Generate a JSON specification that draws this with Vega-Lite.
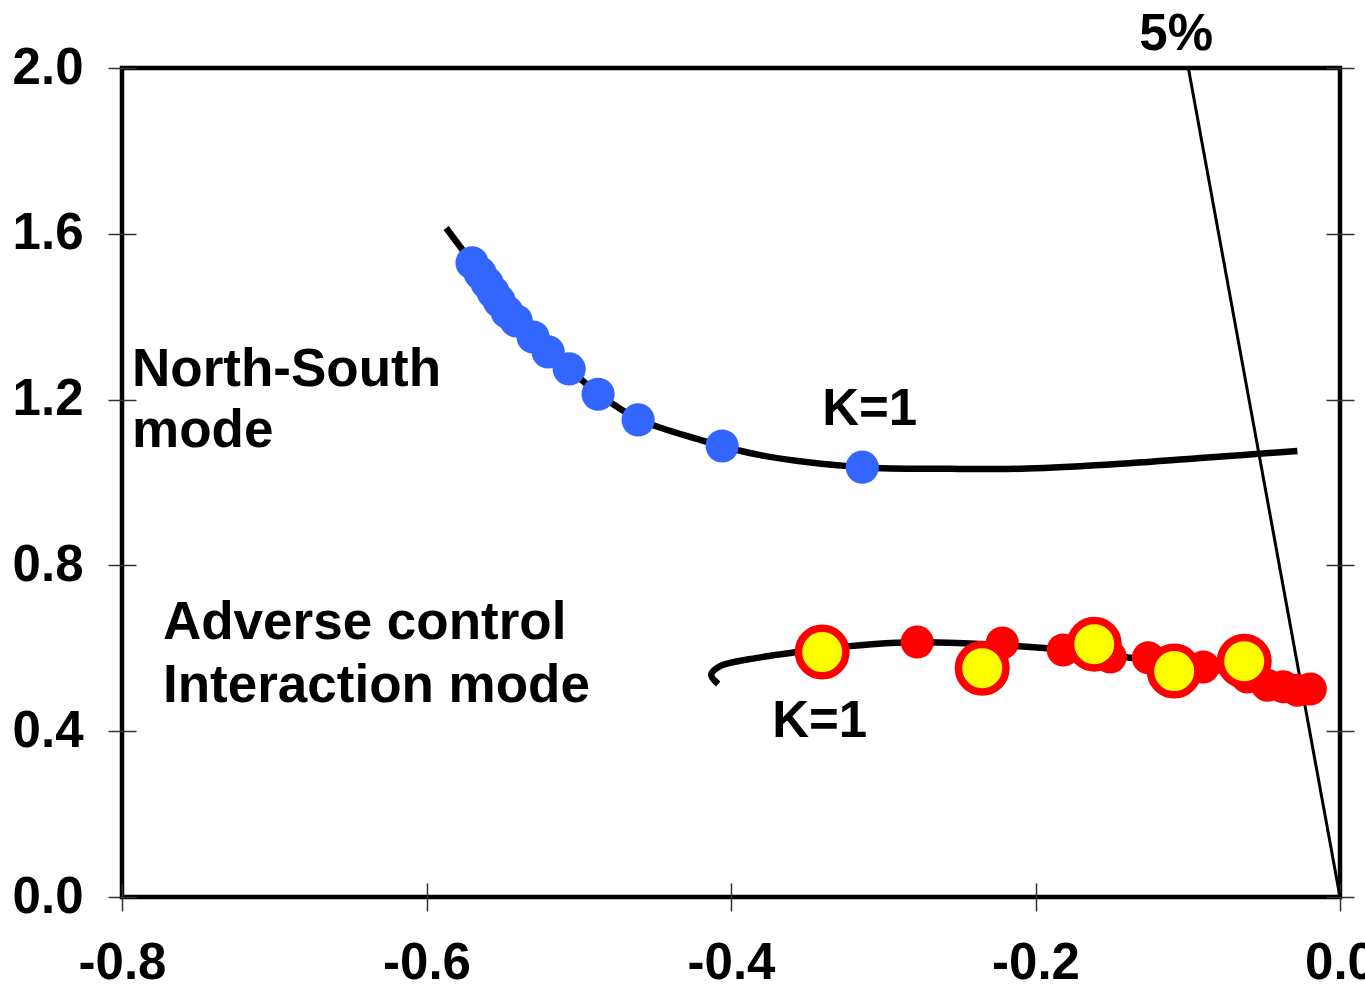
{
  "$schema": "https://vega.github.io/schema/vega-lite/v6.json",
  "width": 1218,
  "height": 829,
  "autosize": {"type": "none"},
  "padding": {"left": 122, "top": 68, "right": 25, "bottom": 90},
  "background": "white",
  "config": {
    "view": {"stroke": "black", "strokeWidth": 4.5},
    "font": "Liberation Sans"
  },
  "datasets": {
    "fiveline": [
      {"x": -0.0996, "y": 2.0},
      {"x": 0.0, "y": 0.0}
    ],
    "curves": [
      {"s": "upper", "ord": 1, "x": -0.5871, "y": 1.614},
      {"s": "upper", "ord": 2, "x": -0.5701, "y": 1.530},
      {"s": "upper", "ord": 3, "x": -0.5517, "y": 1.435},
      {"s": "upper", "ord": 4, "x": -0.5300, "y": 1.351},
      {"s": "upper", "ord": 5, "x": -0.5063, "y": 1.274},
      {"s": "upper", "ord": 6, "x": -0.4860, "y": 1.211},
      {"s": "upper", "ord": 7, "x": -0.4597, "y": 1.151},
      {"s": "upper", "ord": 8, "x": -0.4203, "y": 1.103},
      {"s": "upper", "ord": 9, "x": -0.3808, "y": 1.066},
      {"s": "upper", "ord": 10, "x": -0.3138, "y": 1.037},
      {"s": "upper", "ord": 11, "x": -0.2560, "y": 1.033},
      {"s": "upper", "ord": 12, "x": -0.2100, "y": 1.033},
      {"s": "upper", "ord": 13, "x": -0.1575, "y": 1.042},
      {"s": "upper", "ord": 14, "x": -0.0917, "y": 1.059},
      {"s": "upper", "ord": 15, "x": -0.0280, "y": 1.076},
      {"s": "lower", "ord": 1, "x": -0.4084, "y": 0.514},
      {"s": "lower", "ord": 2, "x": -0.4130, "y": 0.536},
      {"s": "lower", "ord": 3, "x": -0.4071, "y": 0.557},
      {"s": "lower", "ord": 4, "x": -0.3828, "y": 0.577},
      {"s": "lower", "ord": 5, "x": -0.3565, "y": 0.591},
      {"s": "lower", "ord": 6, "x": -0.3283, "y": 0.603},
      {"s": "lower", "ord": 7, "x": -0.2954, "y": 0.613},
      {"s": "lower", "ord": 8, "x": -0.2514, "y": 0.613},
      {"s": "lower", "ord": 9, "x": -0.2034, "y": 0.603},
      {"s": "lower", "ord": 10, "x": -0.1640, "y": 0.590},
      {"s": "lower", "ord": 11, "x": -0.1377, "y": 0.577},
      {"s": "lower", "ord": 12, "x": -0.1049, "y": 0.562},
      {"s": "lower", "ord": 13, "x": -0.0655, "y": 0.538},
      {"s": "lower", "ord": 14, "x": -0.0228, "y": 0.504}
    ],
    "blue": [
      {"x": -0.5701, "y": 1.530},
      {"x": -0.5648, "y": 1.505},
      {"x": -0.5602, "y": 1.481},
      {"x": -0.5562, "y": 1.459},
      {"x": -0.5523, "y": 1.438},
      {"x": -0.5470, "y": 1.411},
      {"x": -0.5411, "y": 1.390},
      {"x": -0.5300, "y": 1.351},
      {"x": -0.5201, "y": 1.315},
      {"x": -0.5063, "y": 1.274},
      {"x": -0.4873, "y": 1.213},
      {"x": -0.4610, "y": 1.151},
      {"x": -0.4058, "y": 1.088},
      {"x": -0.3138, "y": 1.037}
    ],
    "red": [
      {"x": -0.2777, "y": 0.615},
      {"x": -0.2218, "y": 0.613},
      {"x": -0.1818, "y": 0.596},
      {"x": -0.1509, "y": 0.579},
      {"x": -0.1259, "y": 0.577},
      {"x": -0.0898, "y": 0.555},
      {"x": -0.0609, "y": 0.531},
      {"x": -0.0477, "y": 0.511},
      {"x": -0.0372, "y": 0.507},
      {"x": -0.0280, "y": 0.499},
      {"x": -0.0195, "y": 0.502}
    ],
    "yellow": [
      {"x": -0.3401, "y": 0.591},
      {"x": -0.2350, "y": 0.552},
      {"x": -0.1614, "y": 0.610},
      {"x": -0.1089, "y": 0.545},
      {"x": -0.0629, "y": 0.569}
    ],
    "modelabels": [
      {"x": -0.7934, "y": 1.233, "t": "North-South"},
      {"x": -0.7934, "y": 1.085, "t": "mode"},
      {"x": -0.7731, "y": 0.622, "t": "Adverse control"},
      {"x": -0.7731, "y": 0.470, "t": "Interaction mode"}
    ],
    "labels": [
      {"x": -0.3401, "y": 1.139, "t": "K=1"},
      {"x": -0.3729, "y": 0.386, "t": "K=1"},
      {"x": -0.1318, "y": 2.043, "t": "5%"}
    ]
  },
  "resolve": {"axis": {"x": "independent", "y": "independent"}},
  "layer": [
    {
      "data": {"name": "fiveline"},
      "mark": {"type": "line", "color": "black", "strokeWidth": 3, "clip": false},
      "encoding": {
        "x": {
          "field": "x", "type": "quantitative",
          "scale": {"domain": [-0.8, 0], "nice": false, "zero": false},
          "axis": {
            "orient": "bottom", "title": null, "grid": false, "domain": false,
            "values": [-0.8, -0.6, -0.4, -0.2, 0.0],
            "format": ".1f",
            "labelExpr": "replace(datum.label, '\u2212', '-')",
            "labelFont": "Liberation Sans", "labelFontWeight": "bold", "labelFontSize": 51,
            "labelColor": "black", "labelPadding": 27, "labelFlush": false, "labelOverlap": false,
            "tickColor": "#333", "tickWidth": 1.5, "tickSize": 28, "offset": -14
          }
        },
        "y": {
          "field": "y", "type": "quantitative",
          "scale": {"domain": [0, 2], "nice": false, "zero": false},
          "axis": {
            "orient": "left", "title": null, "grid": false, "domain": false,
            "values": [0, 0.4, 0.8, 1.2, 1.6, 2.0],
            "format": ".1f",
            "labelFont": "Liberation Sans", "labelFontWeight": "bold", "labelFontSize": 51,
            "labelColor": "black", "labelPadding": 25, "labelFlush": false, "labelOverlap": false,
            "tickColor": "#333", "tickWidth": 1.5, "tickSize": 28, "offset": -14
          }
        }
      }
    },
    {
      "data": {"name": "curves"},
      "mark": {"type": "line", "color": "black", "strokeWidth": 6.5, "interpolate": "catmull-rom"},
      "encoding": {
        "x": {"field": "x", "type": "quantitative", "axis": null},
        "y": {
          "field": "y", "type": "quantitative",
          "axis": {
            "orient": "right", "title": null, "grid": false, "domain": false, "labels": false,
            "values": [0, 0.4, 0.8, 1.2, 1.6, 2.0],
            "tickColor": "#333", "tickWidth": 1.5, "tickSize": 28, "offset": -14
          }
        },
        "detail": {"field": "s"},
        "order": {"field": "ord", "type": "quantitative"}
      }
    },
    {
      "data": {"name": "red"},
      "mark": {"type": "circle", "color": "#FF0000", "opacity": 1, "size": 1089},
      "encoding": {
        "x": {"field": "x", "type": "quantitative", "axis": null},
        "y": {"field": "y", "type": "quantitative", "axis": null}
      }
    },
    {
      "data": {"name": "yellow"},
      "mark": {"type": "point", "shape": "circle", "filled": true, "fill": "#FFFF00", "stroke": "#FF0000", "strokeWidth": 7.5, "opacity": 1, "fillOpacity": 1, "strokeOpacity": 1, "size": 2256},
      "encoding": {
        "x": {"field": "x", "type": "quantitative", "axis": null},
        "y": {"field": "y", "type": "quantitative", "axis": null}
      }
    },
    {
      "data": {"name": "blue"},
      "mark": {"type": "circle", "color": "#3366FF", "opacity": 1, "size": 1100},
      "encoding": {
        "x": {"field": "x", "type": "quantitative", "axis": null},
        "y": {"field": "y", "type": "quantitative", "axis": null}
      }
    },
    {
      "data": {"name": "modelabels"},
      "mark": {"type": "text", "font": "Liberation Sans", "fontWeight": "bold", "fontSize": 53, "align": "left", "baseline": "alphabetic", "color": "black"},
      "encoding": {
        "x": {"field": "x", "type": "quantitative", "axis": null},
        "y": {"field": "y", "type": "quantitative", "axis": null},
        "text": {"field": "t"}
      }
    },
    {
      "data": {"name": "labels"},
      "mark": {"type": "text", "font": "Liberation Sans", "fontWeight": "bold", "fontSize": 51, "align": "left", "baseline": "alphabetic", "color": "black"},
      "encoding": {
        "x": {"field": "x", "type": "quantitative", "axis": null},
        "y": {"field": "y", "type": "quantitative", "axis": null},
        "text": {"field": "t"}
      }
    }
  ]
}
